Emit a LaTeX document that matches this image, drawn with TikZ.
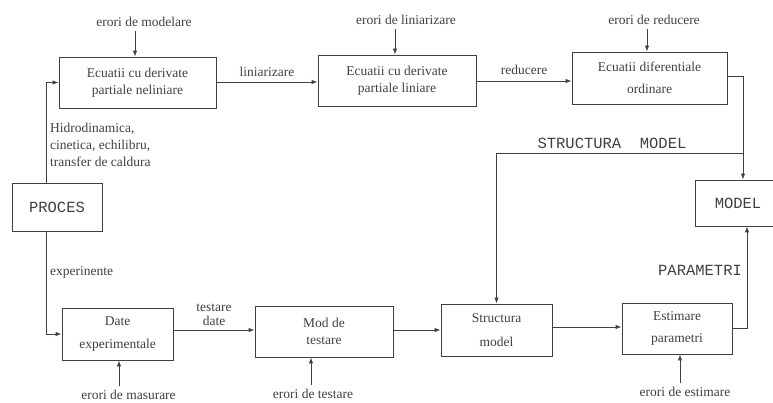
\documentclass[tikz,border=0pt]{standalone}
\usepackage{fontspec}
\setmainfont{Liberation Serif}
\newfontfamily\capsfont{Liberation Mono}
\usetikzlibrary{arrows.meta}

\definecolor{ink}{gray}{0.25}

\tikzset{
	bloc/.style={draw=ink, line width=0.9pt, align=center, inner sep=0pt, text=ink,
		font=\fontsize{13.5}{17}\selectfont},
	eticheta/.style={text=ink, inner sep=0pt, font=\fontsize{13.5}{17}\selectfont},
	majuscule/.style={text=ink, inner sep=0pt, font=\capsfont\fontsize{15.5}{17}\selectfont},
	sageata/.style={draw=ink, line width=0.9pt, -{Latex[length=6pt,width=4.5pt]}}
}

\begin{document}
\begin{tikzpicture}[x=1pt, y=-1pt]
	\useasboundingbox (0,0) rectangle (773,403);

	\node[bloc, minimum width=157pt, minimum height=51pt] (ecnl) at (137.5,82.5)
		{Ecuatii cu derivate\\partiale neliniare};
	\node[bloc, minimum width=158pt, minimum height=51pt] (eclin) at (397,80.5)
		{Ecuatii cu derivate\\partiale liniare};
	\node[bloc, minimum width=155pt, minimum height=52pt] (ecdif) at (649.5,78)
		{Ecuatii diferentiale\\[5pt]ordinare};
	\node[bloc, font=\capsfont\fontsize{15.5}{17}\selectfont,
		minimum width=86pt, minimum height=46pt] (model) at (738,203) {MODEL};
	\node[bloc, font=\capsfont\fontsize{15.5}{17}\selectfont,
		minimum width=90pt, minimum height=48pt] (proces) at (57,207) {PROCES};

	\node[bloc, minimum width=111pt, minimum height=52pt] (date) at (117.5,334)
		{Date\\[6pt]experimentale};
	\node[bloc, minimum width=138pt, minimum height=51pt] (mod) at (324,331.5)
		{Mod de\\testare};
	\node[bloc, minimum width=111pt, minimum height=52pt] (struct) at (496.5,330)
		{Structura\\[7pt]model};
	\node[bloc, minimum width=110pt, minimum height=51pt] (estim) at (677,328.5)
		{Estimare\\[5pt]parametri};

	\node[eticheta] (erm) at (144,22) {erori de modelare};
	\node[eticheta] (erl) at (406,20) {erori de liniarizare};
	\node[eticheta] (err) at (654,20) {erori de reducere};
	\node[eticheta] (ems) at (128.5,395) {erori de masurare};
	\node[eticheta] (ets) at (313,394) {erori de testare};
	\node[eticheta] (ees) at (685,392) {erori de estimare};

	\foreach \txt/\bx/\dx in {erm/ecnl/-9, erl/eclin/-11, err/ecdif/-7}
		\draw[sageata]
			([xshift=\dx pt, yshift=-4pt]\txt.south) -- ([xshift=\dx pt]\txt.south |- \bx.north);

	\foreach \txt/\bx/\dx in {ems/date/-9.5, ets/mod/-2, ees/estim/-5}
		\draw[sageata]
			([xshift=\dx pt, yshift=4pt]\txt.north) -- ([xshift=\dx pt]\txt.north |- \bx.south);

	\draw[sageata]
		([xshift=-11pt]proces.north) |- (ecnl.west);
	\draw[sageata]
		([xshift=-11pt]proces.south) |- (date.west);

	\node[eticheta, align=left, anchor=west] (fenomene) at (50,145)
		{Hidrodinamica,\\cinetica, echilibru,\\transfer de caldura};
	\node[eticheta, anchor=west] (exp) at (50,272) {experinente};

	\draw[sageata]
		(ecnl.east |- 0,82) -- (eclin.west |- 0,82) node [eticheta, midway, above=5pt] (lin) {liniarizare};
	\draw[sageata]
		(eclin.east |- 0,81) -- (ecdif.west |- 0,81) node [eticheta, midway, above=6pt] (red) {reducere};

	\draw[sageata]
		(date.east |- 0,330) -- (mod.west |- 0,330)
		node [eticheta, midway, above=4pt, align=center, font=\fontsize{13.5}{14}\selectfont] (td) {testare\\date};
	\draw[sageata]
		(mod.east |- 0,330) -- (struct.west |- 0,330);
	\draw[sageata]
		(struct.east |- 0,327) -- (estim.west |- 0,327);

	\coordinate (nod) at ([xshift=5pt]model.north |- 0,153);
	\draw[sageata]
		(ecdif.east |- 0,76) -| ([xshift=5pt]model.north);
	\draw[sageata]
		(nod) -| (struct.north);
	\node[majuscule] (sm) at (612,143) {STRUCTURA\ \ MODEL};

	\draw[sageata]
		(estim.east |- 0,328) -| ([xshift=9pt]model.south);
	\node[majuscule] (par) at (700,270) {PARAMETRI};
\end{tikzpicture}
\end{document}
